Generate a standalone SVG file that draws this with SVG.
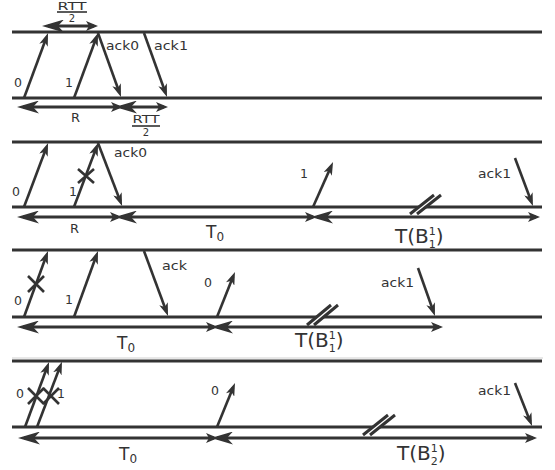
<svg xmlns="http://www.w3.org/2000/svg" width="555" height="470" viewBox="0 0 555 470">
<style>
.ln{stroke:#333;stroke-width:3;fill:none}
.ar{stroke:#333;stroke-width:2.6;fill:none;marker-end:url(#ah)}
.ms{stroke:#333;stroke-width:3;fill:none;marker-start:url(#bigS);marker-end:url(#smE)}
.x{stroke:#333;stroke-width:2.6;fill:none}
.br{stroke:#333;stroke-width:3;fill:none}
.gap{fill:#fff;stroke:none}
text{font-family:"DejaVu Sans","Liberation Sans",sans-serif;fill:#333}
.s{font-size:11.5px}
.d{font-size:12.5px}
.m{font-size:13px}
.b{font-size:20px}
.t{font-size:17px}
.f{font-size:10px;text-anchor:middle}
.bar{stroke:#333;stroke-width:1.6}
</style>
<defs>
<marker id="ah" viewBox="0 0 13 9" markerWidth="13" markerHeight="9" refX="8" refY="4.5" orient="auto" markerUnits="userSpaceOnUse"><path d="M0,0 L13,4.5 L0,9 L3.5,4.5 z" fill="#333"/></marker>
<marker id="bigS" viewBox="0 0 22 13" markerWidth="22" markerHeight="13" refX="16" refY="6.5" orient="auto-start-reverse" markerUnits="userSpaceOnUse"><path d="M0,0 L22,6.5 L0,13 L6,6.5 z" fill="#333"/></marker>
<marker id="smE" viewBox="0 0 12 10" markerWidth="12" markerHeight="10" refX="8" refY="5" orient="auto" markerUnits="userSpaceOnUse"><path d="M0,0 L12,5 L0,10 L3,5 z" fill="#333"/></marker>
</defs>

<g id="timelines">
<line class="ln" x1="12" y1="32" x2="542" y2="32"/>
<line class="ln" x1="12" y1="98" x2="542" y2="98"/>
<line class="ln" x1="12" y1="142" x2="542" y2="142"/>
<line class="ln" x1="12" y1="207" x2="542" y2="207"/>
<line class="ln" x1="12" y1="250" x2="542" y2="250"/>
<line class="ln" x1="12" y1="317" x2="542" y2="317"/>
<line class="ln" x1="12" y1="361" x2="542" y2="361"/>
<line class="ln" x1="12" y1="427" x2="542" y2="427"/>
<line x1="12" y1="358" x2="543" y2="358" stroke="#d0d0d0" stroke-width="1"/>
</g>

<g id="connectors">
<!-- panel 1 -->
<path class="ar" d="M24,98 L46.3,37.7"/>
<path class="ar" d="M74,98 L96.3,37.7"/>
<path class="ar" d="M98,33 L119.3,92.3"/>
<path class="ar" d="M144,33 L165.3,92.3"/>
<!-- panel 2 -->
<path class="ar" d="M24,207 L46.3,147.7"/>
<path class="ar" d="M74,207 L96.3,147.7"/>
<path class="ar" d="M98,143 L120.3,201.3"/>
<path class="ar" d="M313,207 L331,166.6"/>
<path class="ar" d="M515,158 L531.2,201.3"/>
<!-- panel 3 -->
<path class="ar" d="M24,317 L46.3,255.7"/>
<path class="ar" d="M74,317 L96.3,255.7"/>
<path class="ar" d="M144,251 L166.3,311.3"/>
<path class="ar" d="M217,317 L233.1,276.6"/>
<path class="ar" d="M418,268 L433.3,311.3"/>
<!-- panel 4 -->
<path class="ar" d="M25,427 L47.3,366.7"/>
<path class="ar" d="M37,427 L60.2,366.3"/>
<path class="ar" d="M217,427 L233.1,387.6"/>
<path class="ar" d="M515,383 L530.2,421.4"/>
</g>

<g id="measures">
<path class="ms" d="M48,26 L94,26"/>
<path class="ms" d="M23,107 L119,107"/>
<path class="ms" d="M121,107 L164,107"/>
<path class="ms" d="M23,217 L118,217"/>
<path class="ms" d="M121,217 L313,217"/>
<path class="ms" d="M317,217 L536,217"/>
<path class="ms" d="M23,327 L214,327"/>
<path class="ms" d="M217,327 L439,327"/>
<path class="ms" d="M24,438 L214,438"/>
<path class="ms" d="M217,438 L533,438"/>
</g>

<g id="losses">
<path class="x" d="M78,169 L94,183 M94,169 L78,183"/>
<path class="x" d="M28,276 L44,292 M44,276 L28,292"/>
<path class="x" d="M28,388 L44,404 M44,388 L28,404"/>
<path class="x" d="M43,388 L59,404 M59,388 L43,404"/>
</g>

<g id="breaks">
<polygon class="gap" points="411,213 434,195 440,195 417,213"/>
<path class="br" d="M410,214 L434,195 M417,214 L441,195"/>
<polygon class="gap" points="308,324 332,305 338,305 314,324"/>
<path class="br" d="M307,325 L331,305 M314,325 L338,305"/>
<polygon class="gap" points="364,434 388,415 394,415 370,434"/>
<path class="br" d="M363,435 L388,415 M370,435 L395,415"/>
</g>

<g id="labels">
<!-- panel 1 -->
<text class="f" x="72" y="9.5" textLength="29" lengthAdjust="spacingAndGlyphs">RTT</text>
<line class="bar" x1="57" y1="12" x2="87" y2="12"/>
<text class="f" x="72" y="21.5">2</text>
<text class="d" x="14" y="87">0</text>
<text class="d" x="65" y="87">1</text>
<text class="s" x="106" y="50" textLength="33" lengthAdjust="spacingAndGlyphs">ack0</text>
<text class="s" x="154" y="50" textLength="34" lengthAdjust="spacingAndGlyphs">ack1</text>
<text class="m" x="71" y="122">R</text>
<text class="f" x="146" y="122.5" textLength="27" lengthAdjust="spacingAndGlyphs">RTT</text>
<line class="bar" x1="132" y1="126" x2="160" y2="126"/>
<text class="f" x="146" y="135.5">2</text>
<!-- panel 2 -->
<text class="d" x="12" y="196">0</text>
<text class="d" x="69" y="196">1</text>
<text class="s" x="114" y="157" textLength="33" lengthAdjust="spacingAndGlyphs">ack0</text>
<text class="m" x="70" y="233">R</text>
<text class="t" x="206" y="238">T<tspan font-size="12" dy="3">0</tspan></text>
<text class="d" x="300" y="178">1</text>
<text class="s" x="478" y="178" textLength="33" lengthAdjust="spacingAndGlyphs">ack1</text>
<text class="b" x="395" y="243">T(B<tspan font-size="11" dy="-8">1</tspan><tspan font-size="11" dx="-7" dy="13">1</tspan><tspan dy="-5">)</tspan></text>
<!-- panel 3 -->
<text class="d" x="14" y="305">0</text>
<text class="d" x="65" y="304">1</text>
<text class="s" x="162" y="270" textLength="25" lengthAdjust="spacingAndGlyphs">ack</text>
<text class="d" x="204" y="287">0</text>
<text class="s" x="381" y="287" textLength="33" lengthAdjust="spacingAndGlyphs">ack1</text>
<text class="t" x="117" y="349">T<tspan font-size="12" dy="3">0</tspan></text>
<text class="b" x="295" y="347">T(B<tspan font-size="11" dy="-8">1</tspan><tspan font-size="11" dx="-7" dy="13">1</tspan><tspan dy="-5">)</tspan></text>
<!-- panel 4 -->
<text class="d" x="16" y="398">0</text>
<text class="d" x="57" y="398">1</text>
<text class="d" x="211" y="395">0</text>
<text class="s" x="478" y="395" textLength="33" lengthAdjust="spacingAndGlyphs">ack1</text>
<text class="t" x="119" y="460">T<tspan font-size="12" dy="3">0</tspan></text>
<text class="b" x="397" y="460">T(B<tspan font-size="11" dy="-8">1</tspan><tspan font-size="11" dx="-7" dy="13">2</tspan><tspan dy="-5">)</tspan></text>
</g>
</svg>
